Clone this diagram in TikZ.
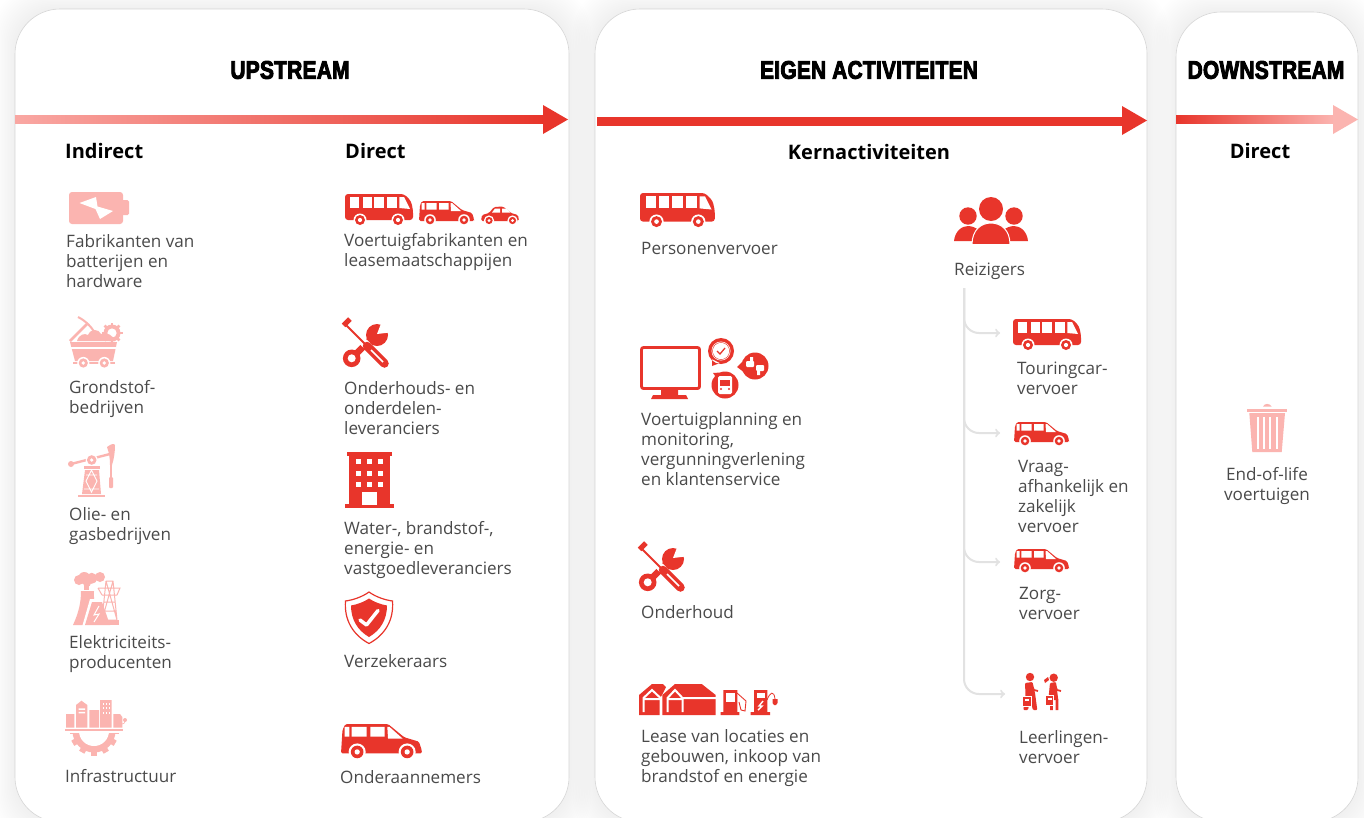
\documentclass[tikz,border=0pt]{standalone}
\usepackage{fontspec}
\setmainfont{Open Sans}
\newfontfamily\titlefont[BoldFeatures={FakeBold=3.5,FakeStretch=.82},LetterSpace=1]{Liberation Sans}
\definecolor{iconred}{HTML}{E8352B}
\definecolor{iconpink}{HTML}{FBB4B0}
\definecolor{bodytext}{HTML}{4A4A4A}
\definecolor{cardline}{HTML}{D6D6D6}
\definecolor{branchgrey}{HTML}{E2E2E2}
\newcommand\iconwheel[3]{%
  \fill[white] (#1,#2) circle (#3+1.5);
  \fill (#1,#2) circle (#3);
  \fill[white] (#1,#2) circle (#3*.42);
}
\tikzset{
  lbl/.style={anchor=north west,inner sep=0pt,align=left,text=bodytext,
    font=\fontsize{17.1}{20}\selectfont,execute at begin node=\strut},
  subhead/.style={inner sep=0pt,text=black,font=\fontsize{20}{24}\selectfont\bfseries},
  headline/.style={inner sep=0pt,text=black,font=\fontsize{25.5}{28}\selectfont\titlefont\bfseries},
  branch/.style={->,draw=branchgrey,line width=2pt,rounded corners=15pt},
  busicon/.pic={
    \fill[rounded corners=3pt] (0,0) -- (59,0) -- (66,7) -- (68,16) -- (68,26) -- (0,26) -- cycle;
    \foreach \wx/\ww in {5/9.3,17.7/9,29.3/10,42/10} \fill[white] (\wx,3) rectangle +(\ww,11);
    \fill[white] (54.3,3) -- (59,3) -- (65,15) -- (54.3,14) -- cycle;
    \iconwheel{15}{26}{5} \iconwheel{53}{26}{5}
  },
  vanicon/.pic={
    \fill[rounded corners=1.5pt] (0,20) -- (1,4) -- (3,0) -- (32,0) -- (43,9) -- (53,12) -- (55,18) -- (55,20) -- cycle;
    \fill[white] (2.5,2) rectangle (5.7,8.6) (7.3,2) rectangle (17.5,8.6) (20,2) rectangle (29.7,8.6);
    \fill[white] (31.5,2) -- (33,2) -- (42,10) -- (32,10) -- cycle;
    \iconwheel{11}{19}{4.3} \iconwheel{45}{19}{4.3}
  },
  caricon/.pic={
    \fill[rounded corners=1.5pt] (0,15) -- (1,9) -- (8,7) -- (13,1) -- (22,.5) -- (30,7) -- (37,9) -- (38,15) -- cycle;
    \fill[white] (14,2.5) -- (19,2.5) -- (19,6.5) -- (11,6.5) -- cycle (21,2.5) -- (25,2.5) -- (29,6.5) -- (21,6.5) -- cycle;
    \iconwheel{8}{14.5}{3.6} \iconwheel{31.5}{14.5}{3.6}
  },
  batteryicon/.pic={
    \fill[rounded corners=3pt] (0,0) rectangle (54,32);
    \fill[rounded corners=1.5pt] (52,8) rectangle (60,23);
    \fill[white] (10.5,11) -- (27,5) -- (28.5,14.5) -- (44,19) -- (31,27) -- (26.5,17) -- cycle;
  },
  cart/.pic={
    \draw[line width=2.6pt] (1,24) -- (19,6);
    \draw[line width=2pt] (9,0) .. controls (17,4) and (24,11) .. (28,20);
    \fill (43,16) circle (8.5);
    \foreach \ga in {0,45,...,315} \draw[line width=2.5pt] (43,16) -- ++(\ga:10.5);
    \fill[white] (43,16) circle (4.6);
    \fill (8,24) .. controls (10,17) and (16,16) .. (19,18) .. controls (22,11) and (30,12) .. (32,17) .. controls (38,15) and (44,18) .. (46,24) -- cycle;
    \fill (1,25) -- (48,25) -- (44,44) -- (6,44) -- cycle;
    \fill[white] (0,29.5) rectangle (50,31.5);
    \fill (4,45) rectangle (46,47);
    \iconwheel{14.3}{46}{4.6} \iconwheel{35.3}{46}{4.6}
  },
  pumpjack/.pic={
    \fill (3,20) circle (3);
    \draw[line width=2.4pt] (3,20) -- (42,10);
    \fill[white] (23.7,16) circle (6);
    \fill (23.7,16) circle (4.8);
    \fill[white] (23.7,16) circle (1.8);
    \fill (39,3) .. controls (43,0) and (46,-1) .. (47,1) .. controls (47,8) and (46,15) .. (44,21) -- (42,21) .. controls (42,14) and (41,8) .. (39,3) -- cycle;
    \draw[line width=1.2pt] (43,21) -- (43,34);
    \fill[rounded corners=1pt] (41,33) rectangle (45,44);
    \fill (16,22) rectangle (32,25);
    \fill (17,26) -- (31,26) -- (33,50) -- (14,50) -- cycle;
    \draw[white,line width=.9pt] (18,31) -- (29,31) (16,45) -- (31,45) (23.5,26) -- (29,37) -- (23.5,48) -- (18,37) -- cycle;
    \fill (10,51) rectangle (37,53);
  },
  plant/.pic={
    \foreach \cx/\cy/\cr in {6/8/5,11.3/6/6,18.7/6.3/5.5,27/5/5,14/11/4} \fill (\cx,\cy) circle (\cr);
    \fill (11,12) rectangle (16,18);
    \fill (8,19) -- (21,19) .. controls (20,30) and (24,38) .. (30,53) -- (0,53) .. controls (6,40) and (8,30) .. (8,19) -- cycle;
    \fill[white] (17,27) -- (31,27) -- (40,55) -- (9,55) -- cycle;
    \fill (19,30) -- (29,30) -- (37,53) -- (12,53) -- cycle;
    \draw[white,line width=1pt] (26,34) -- (21,43) -- (26,42) -- (21,50);
    \draw[line width=1pt] (33,9) -- (40,9) (33,9) -- (29,48) (40,9) -- (44,48) (29,48) -- (44,48) (33,9) -- (44,48) (40,9) -- (29,48) (25,16) -- (47,16) -- (44,23) (25,16) -- (29,23) (29,23) -- (44,23) (31,30) -- (42,30) (30,39) -- (43,39);
    \fill (26,48) rectangle (46,53);
  },
  cityicon/.pic={
    \fill (1,16) rectangle (9.3,29.7) (11,7) -- (16.5,2.7) -- (22.3,7) -- (22.3,29.7) -- (11,29.7) -- cycle (24.3,12) rectangle (34,29.7) (35,2) rectangle (46.7,29.7) (48.3,16) -- (55,16) -- (57.3,19) -- (57.3,29.7) -- (48.3,29.7) -- cycle;
    \fill[white] (13.5,10.3) rectangle (20,11.8) (13.5,13.8) rectangle (20,15.3);
    \foreach \wx in {37.5,40.5,43.5} \foreach \wy in {4.5,9,13.5} \fill[white] (\wx,\wy) rectangle +(1.5,2);
    \fill (60,22) circle (2);
    \draw[line width=.6pt] (57,26) .. controls (59,26) and (60,25) .. (60,22);
    \fill (0,31) rectangle (58,33);
    \begin{scope}
      \clip (-5,35.3) rectangle (70,60);
      \foreach \ga in {0,30,...,150} \fill[shift={(29,33)},rotate=\ga] (-3,-24.5) rectangle (3,24.5);
      \fill (29,33) circle (21.5);
      \fill[white] (29,33) circle (15);
    \end{scope}
  },
  tools/.pic={
    \fill (7.7,35.3) circle (8.8);
    \draw[line width=6.5pt] (7.7,35.3) -- (29,14);
    \fill (33,12) circle (11);
    \fill[white] (7.7,35.3) circle (4);
    \fill[white] (33,11) -- (38,-2) -- (50,-2) -- (50,9) -- cycle;
    \draw[white,line width=8pt] (13,13) -- (34,33);
    \draw[line width=2pt] (2,2) -- (23,23);
    \fill[rotate around={45:(1,1)}] (-1,-1.5) rectangle (8,3.5);
    \draw[line width=8.5pt,line cap=round] (23,23) -- (40.5,40.5);
    \draw[white,line width=1.6pt] (27,27) -- (39,39);
  },
  buildicon/.pic={
    \fill (2,0) rectangle (47,4);
    \fill (4,4) rectangle (44.5,52);
    \fill (0,52) rectangle (49,56);
    \foreach \wx in {11,22.3,33.3} \foreach \wy in {7.3,18.7,29.7} \fill[white] (\wx,\wy) rectangle +(5,5);
    \fill[white] (16.7,40) rectangle (32.3,53);
  },
  shieldicon/.pic={
    \draw[line width=1.2pt,fill=white] (24,0) .. controls (31,5) and (40,8) .. (47.5,9) .. controls (49,28) and (40,43) .. (24,51.5) .. controls (8,43) and (-1,28) .. (.5,9) .. controls (8,8) and (17,5) .. (24,0) -- cycle;
    \fill (24,6.5) .. controls (29,10) and (36,12.5) .. (42,13.5) .. controls (42,27) and (36,38) .. (24,45) .. controls (12,38) and (6,27) .. (6,13.5) .. controls (12,12.5) and (19,10) .. (24,6.5) -- cycle;
    \draw[white,line width=3.5pt,line cap=round,line join=round] (15,28) -- (21.5,33) -- (33,18.5);
  },
  planning/.pic={
    \draw[line width=2.8pt,rounded corners=2pt] (1.5,10.5) rectangle (59.5,51.5);
    \fill (21,53) rectangle (38,58) (13,58) -- (46,58) -- (48,62) -- (11,62) -- cycle;
    % three speech bubbles
    \fill (81,14) circle (13) (72,22) -- (72,29) -- (80,26) -- cycle;
    \fill (115,29) circle (13.5) (97,30) -- (105,22) -- (105,36) -- cycle;
    \fill (85,48) circle (13.5) (73,36) -- (88,35) -- (78,43) -- cycle;
    \fill[white] (81,14) circle (9.5);
    \fill (81,14) circle (8.8);
    \fill[white] (81,14) circle (8.2);
    \draw[line width=1.3pt] (77,14) -- (80,17) -- (85,11);
    \fill[white,rounded corners=1pt] (106,24) rectangle (114,30) (116,28) rectangle (124,34);
    \fill[white] (110,20) rectangle (113,25) (117,33) rectangle (120,38);
    \fill[white,rounded corners=1.5pt] (78,39) rectangle (92,57);
    \fill (80,43) rectangle (90,49);
    \fill (81,52) circle (1.2) (89,52) circle (1.2);
  },
  sites/.pic={
    \fill (0,11) -- (13,0) -- (24,0) -- (27,3) -- (23,11) -- (21,14) -- (21,31) -- (0,31) -- cycle;
    \fill (23.3,11) -- (36,0) -- (62.7,0) -- (76.7,11) -- (76.7,31) -- (23.3,31) -- cycle;
    \draw[white,line width=2pt] (4.5,28) -- (4.5,14) -- (13,6) -- (21.5,14) -- (21.5,32) (28.5,28) -- (28.5,14) -- (36,6) -- (43.5,14) -- (43.5,28) (43.5,14) -- (77,14);
    \fill[white] (5,14) rectangle (21,16) (29,14) rectangle (43,16);
    \fill (84.3,6) rectangle (98.3,28) (81.7,28) rectangle (100.3,31);
    \fill[white] (86.7,8.7) rectangle (96,17.7);
    \draw[line width=.9pt] (98,9) -- (107,17) -- (106,27) -- (102,26) -- (100,18);
    \fill (115,6) rectangle (128.3,28) (111.7,28) rectangle (131,31);
    \fill[white] (117.5,8.5) rectangle (126,14);
    \draw[white,line width=1.4pt] (124,17) -- (120,22) -- (123,22) -- (119,26);
    \draw[line width=.8pt] (128,16) .. controls (131,8) and (135,6) .. (136,15);
    \fill (133.5,15) -- (138.5,15) -- (138.5,19) -- (137,21) -- (135,21) -- (133.5,19) -- cycle;
  },
  people/.pic={
    \fill (37,12) circle (12) (14,19) circle (8.7) (60,19) circle (8.7);
    \fill (0,44) .. controls (1,34) and (8,29) .. (14,29) .. controls (18,29) and (22,31) .. (25,33) -- (18,44) -- cycle;
    \fill (74,44) .. controls (73,34) and (66,29) .. (60,29) .. controls (56,29) and (52,31) .. (49,33) -- (56,44) -- cycle;
    \fill[draw=white,line width=1pt] (18,47.5) .. controls (18,33) and (27,26) .. (37,26) .. controls (47,26) and (56,33) .. (56,47.5) -- cycle;
  },
  pupils/.pic={
    \fill (8,5) circle (4.2) (31.7,5.7) circle (4.2);
    \fill[rounded corners=1pt] (3,11) -- (10.5,10) -- (13,21) -- (15.3,38) -- (11,38) -- (8,28) -- (6,38) -- (1.3,38) -- (3.5,23) -- cycle;
    \draw[line width=1.8pt] (9,13) -- (12,18) -- (16,19);
    \draw[white,line width=.8pt,fill=iconred] (.2,24.5) rectangle (9.2,34);
    \fill[white] (2.5,27) rectangle (6.8,28.5);
    \fill (26,5) -- (22,8) -- (23,11) -- (27,8) -- cycle;
    \fill[rounded corners=1pt] (28,11) -- (34,10) -- (36.3,28) -- (26.3,28) -- cycle;
    \fill (28,27) rectangle (30.8,38) (33.5,27) rectangle (36.3,38);
    \draw[line width=1.8pt] (33,13) -- (35,18) -- (39,19);
    \draw[white,line width=.8pt,fill=iconred] (23.2,23.5) rectangle (31.8,33.5);
    \fill[white] (25.5,26) rectangle (29.5,27.5);
  },
  bin/.pic={
    \fill (16,3.7) .. controls (17,0) and (23,0) .. (24.7,3.7) -- cycle;
    \fill (.3,5.5) rectangle (39.7,8.7);
    \fill (2.3,10) -- (38,10) -- (34.7,49) -- (5.3,49) -- cycle;
    \foreach \sx in {9.7,16.3,22.3,28.7} \fill[white] (\sx,14) rectangle +(1.8,32);
  }
}
\begin{document}
\begin{tikzpicture}[x=1pt,y=-1pt]
  \useasboundingbox (0,0) rectangle (1364,817);
  \clip (0,0) rectangle (1364,817);
  % shadows first, cards on top
  \foreach \xa/\ya/\xb in {15/9/569,595/9/1147,1176/12/1358}
    \foreach \d in {22,20.5,...,1}
      \fill[black,opacity=.0045,rounded corners=45pt] ({\xa-\d},{\ya-\d}) rectangle ({\xb+\d},{822+\d});
  \foreach \xa/\ya/\xb in {15/9/569,595/9/1147,1176/12/1358}
    \draw[cardline,fill=white,line width=.6pt,rounded corners=45pt] (\xa,\ya) rectangle (\xb,822);

  % arrows
  \shade[left color=iconpink!90!iconred,right color=iconred] (15,115) rectangle (544,123.5);
  \fill[iconred] (543,105) -- (568,119.5) -- (543,134) -- cycle;
  \fill[iconred] (597,117) rectangle (1123,125.5);
  \fill[iconred] (1122,106) -- (1147,120.5) -- (1122,135) -- cycle;
  \shade[left color=iconred,right color=iconpink] (1176,115) rectangle (1334,123.5);
  \fill[iconpink] (1333,105) -- (1358,119.5) -- (1333,134) -- cycle;

  % headings
  \node[headline] (upstream) at (290,70) {UPSTREAM};
  \node[headline] (eigen) at (869,70) {EIGEN ACTIVITEITEN};
  \node[headline] (downstream) at (1266,70) {DOWNSTREAM};
  \node[subhead,anchor=west] (indirect) at (65,150.5) {Indirect};
  \node[subhead,anchor=west] (directup) at (345,150.5) {Direct};
  \node[subhead] (kern) at (869,151.5) {Kernactiviteiten};
  \node[subhead] (directdown) at (1260,150.5) {Direct};

  % indirect column
  \begin{scope}[color=iconpink]
    \pic at (69,192) {batteryicon};
    \pic at (69,317) {cart};
    \pic at (68,444) {pumpjack};
    \pic at (73,572) {plant};
    \pic at (65,698) {cityicon};
    \pic at (1247,403) {bin};
  \end{scope}
  \node[lbl] (fabrikanten) at (66,234.5) {Fabrikanten van\\batterijen en\\hardware};
  \node[lbl] (grondstof) at (69,380) {Grondstof-\\bedrijven};
  \node[lbl] (olie) at (69,507) {Olie- en\\gasbedrijven};
  \node[lbl] (elektra) at (69,635) {Elektriciteits-\\producenten};
  \node[lbl] (infra) at (65,768) {Infrastructuur};

  % direct column and core activities
  \begin{scope}[color=iconred]
    \pic at (345,194) {busicon};
    \pic at (419,201) {vanicon};
    \pic at (481,206) {caricon};
    \pic at (344,323) {tools};
    \pic at (345,452) {buildicon};
    \pic at (345,592) {shieldicon};
    \pic[scale=1.47] at (341,724) {vanicon};
    \pic[scale=1.1] at (640,193) {busicon};
    \pic at (640,337) {planning};
    \pic at (640,547) {tools};
    \pic at (639,684) {sites};
    \pic at (954,197) {people};
    \pic at (1013,319) {busicon};
    \pic at (1014,422) {vanicon};
    \pic at (1014,549) {vanicon};
    \pic at (1022,672) {pupils};
  \end{scope}
  \node[lbl] (voertuig) at (344,233) {Voertuigfabrikanten en\\leasemaatschappijen};
  \node[lbl] (onderdelen) at (344,381) {Onderhouds- en\\onderdelen-\\leveranciers};
  \node[lbl] (water) at (344,521) {Water-, brandstof-,\\energie- en\\vastgoedleveranciers};
  \node[lbl] (verzekeraars) at (344,653.5) {Verzekeraars};
  \node[lbl] (onderaannemers) at (340,769.5) {Onderaannemers};
  \node[lbl] (personen) at (641,240) {Personenvervoer};
  \node[lbl] (planning) at (641,412) {Voertuigplanning en\\monitoring,\\vergunningverlening\\en klantenservice};
  \node[lbl] (onderhoud) at (641,604.5) {Onderhoud};
  \node[lbl] (lease) at (641,729) {Lease van locaties en\\gebouwen, inkoop van\\brandstof en energie};
  \node[lbl] (reizigers) at (954,261) {Reizigers};
  \node[lbl] (touring) at (1017,361.5) {Touringcar-\\vervoer};
  \node[lbl] (vraag) at (1018,460.5) {Vraag-\\afhankelijk en\\zakelijk\\vervoer};
  \node[lbl] (zorg) at (1019,587) {Zorg-\\vervoer};
  \node[lbl] (leerlingen) at (1019,730) {Leerlingen-\\vervoer};
  \node[lbl,anchor=north,align=center] (endoflife) at (1267,467) {End-of-life\\voertuigen};

  % passenger branches
  \coordinate (trunk) at (964,288);
  \coordinate (toTouring) at (1000,333);
  \coordinate (toVraag) at (1000,433);
  \coordinate (toZorg) at (1000,562);
  \coordinate (toLeerling) at (1005,694);
  \foreach \target in {toTouring,toVraag,toZorg,toLeerling}
    \draw[branch] (trunk) |- (\target);
\end{tikzpicture}
\end{document}
